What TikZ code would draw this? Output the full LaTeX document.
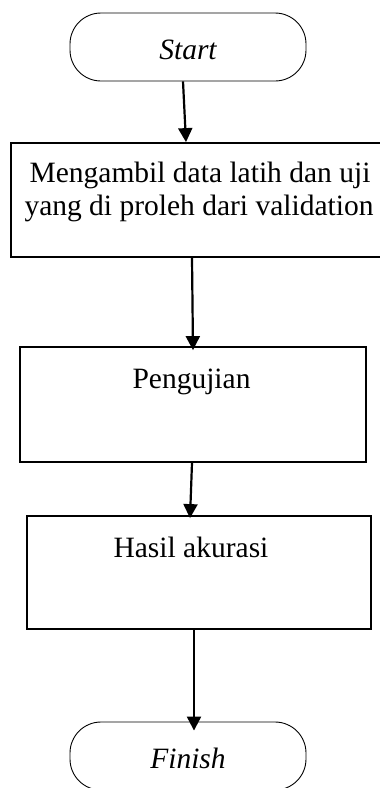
\documentclass[tikz,border=0pt]{standalone}
\usepackage{fontspec}
\setmainfont{Liberation Serif}
\usetikzlibrary{arrows.meta}
\begin{document}
\begin{tikzpicture}[x=1pt,y=-1pt,
  terminal/.style={draw,line width=0.9pt,rectangle,rounded corners=31pt,
    minimum width=236pt,minimum height=68pt,inner sep=0pt},
  procbox/.style={draw,line width=1.8pt,rectangle,inner sep=0pt},
  label/.style={inner sep=0pt,anchor=base,font=\fontsize{29.5}{34}\selectfont},
  flow/.style={line width=2.2pt,-{Triangle[length=14pt,width=14pt]}}]
\useasboundingbox (0,0) rectangle (380,788);
% shapes
\node[terminal] (start) at (188,47) {};
\node[procbox,minimum width=372pt,minimum height=114pt] (ambil) at (197,200) {};
\node[procbox,minimum width=346pt,minimum height=115pt] (uji) at (193,404.5) {};
\node[procbox,minimum width=344pt,minimum height=113pt] (hasil) at (199,572.5) {};
\node[terminal] (finish) at (188,756) {};
% texts
\node[label] (tstart) at (188,59) {\itshape Start};
\node[label] (tambil1) at (200,182) {Mengambil data latih dan uji};
\node[label] (tambil2) at (199,215) {yang di proleh dari validation};
\node[label] (tuji) at (191.5,388) {Pengujian};
\node[label] (thasil) at (191,557) {Hasil akurasi};
\node[label] (tfinish) at (188,768) {\itshape Finish};
% connectors
\draw[flow] ([xshift=-5pt]start.south) -- ([xshift=-11pt]ambil.north);
\draw[flow] ([xshift=-5pt]ambil.south) -- ([yshift=-4pt]uji.north);
\draw[flow] ([xshift=-1pt]uji.south) -- ([xshift=-9pt,yshift=-3pt]hasil.north);
\draw[flow] ([xshift=-5pt]hasil.south) -- ([xshift=6pt,yshift=-9pt]finish.north);
\end{tikzpicture}
\end{document}
